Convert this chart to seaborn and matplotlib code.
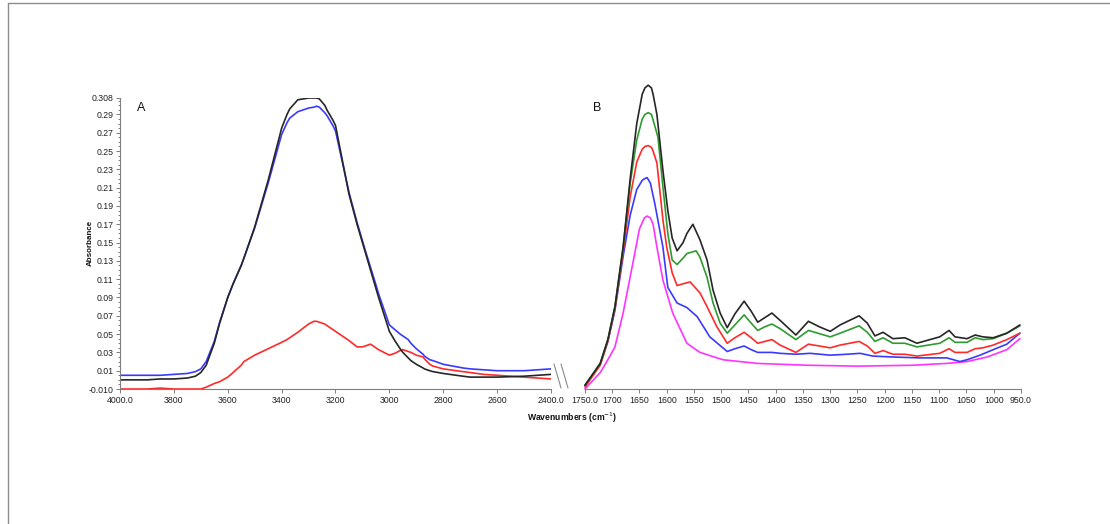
import numpy as np
import pandas as pd
import matplotlib
matplotlib.use("Agg")
import matplotlib.pyplot as plt
from matplotlib.lines import Line2D
import seaborn as sns

# panel A (O-H / N-H stretch region)
wn_a = [4000, 3900, 3850, 3800, 3750, 3720, 3700, 3680, 3650, 3630, 3600, 3580, 3550,
        3540, 3500, 3450, 3400, 3380, 3370, 3340, 3300, 3280, 3270, 3260, 3240, 3230,
        3210, 3200, 3150, 3120, 3100, 3090, 3070, 3050, 3040, 3000, 2980, 2960, 2950,
        2930, 2920, 2900, 2875, 2870, 2850, 2838, 2800, 2727, 2700, 2650, 2600, 2500, 2400]
black_a = [0.000, 0.000, 0.001, 0.001, 0.002, 0.004, 0.008, 0.016, 0.040, 0.062, 0.090, 0.105, 0.125,
           0.133, 0.167, 0.218, 0.275, 0.290, 0.296, 0.306, 0.308, 0.308, 0.308, 0.307, 0.300, 0.294,
           0.284, 0.278, 0.203, 0.170, 0.150, 0.140, 0.120, 0.100, 0.090, 0.053, 0.043, 0.034, 0.030,
           0.024, 0.021, 0.017, 0.013, 0.012, 0.010, 0.009, 0.007, 0.004, 0.003, 0.003, 0.003, 0.004, 0.006]
blue_a = [0.005, 0.005, 0.005, 0.006, 0.007, 0.009, 0.012, 0.020, 0.042, 0.063, 0.090, 0.105, 0.125,
          0.133, 0.166, 0.215, 0.268, 0.281, 0.286, 0.293, 0.297, 0.298, 0.299, 0.298, 0.292, 0.288,
          0.278, 0.272, 0.205, 0.172, 0.152, 0.142, 0.123, 0.104, 0.094, 0.060, 0.055, 0.050, 0.048,
          0.044, 0.040, 0.034, 0.028, 0.026, 0.022, 0.021, 0.017, 0.013, 0.012, 0.011, 0.010, 0.010, 0.012]
red_a = [-0.010, -0.010, -0.009, -0.010, -0.010, -0.010, -0.010, -0.008, -0.004, -0.002, 0.003, 0.008, 0.016,
         0.020, 0.027, 0.034, 0.041, 0.044, 0.046, 0.052, 0.061, 0.064, 0.064, 0.063, 0.061, 0.059,
         0.055, 0.053, 0.043, 0.036, 0.036, 0.037, 0.039, 0.035, 0.033, 0.027, 0.029, 0.032, 0.033,
         0.031, 0.030, 0.027, 0.025, 0.023, 0.017, 0.015, 0.012, 0.009, 0.008, 0.006, 0.005, 0.003, 0.001]

# panel B (amide region), one wavenumber list per trace
wn_black = [1750, 1722, 1708, 1695, 1680, 1667, 1655, 1645, 1640, 1634, 1628, 1625, 1618, 1607, 1598,
            1590, 1581, 1570, 1563, 1552, 1539, 1526, 1515, 1502, 1489, 1475, 1458, 1445, 1433, 1420,
            1407, 1392, 1363, 1340, 1320, 1300, 1282, 1247, 1232, 1218, 1203, 1185, 1163, 1141, 1099,
            1082, 1071, 1049, 1034, 1020, 1001, 976, 952]
black_b = [-0.006, 0.018, 0.044, 0.080, 0.145, 0.220, 0.280, 0.312, 0.319, 0.322, 0.319, 0.312, 0.290, 0.229, 0.185,
           0.155, 0.141, 0.150, 0.160, 0.170, 0.153, 0.131, 0.098, 0.073, 0.057, 0.072, 0.086, 0.075, 0.063, 0.068,
           0.073, 0.065, 0.049, 0.064, 0.058, 0.053, 0.060, 0.070, 0.062, 0.048, 0.052, 0.045, 0.046, 0.040, 0.047,
           0.054, 0.047, 0.045, 0.049, 0.047, 0.046, 0.051, 0.060]
wn_green = [1750, 1722, 1708, 1695, 1680, 1667, 1655, 1645, 1640, 1634, 1628, 1625, 1616, 1607, 1598,
            1590, 1581, 1570, 1563, 1546, 1539, 1526, 1515, 1502, 1489, 1475, 1458, 1445, 1433, 1420,
            1407, 1392, 1363, 1340, 1300, 1282, 1247, 1232, 1218, 1203, 1185, 1163, 1141, 1099, 1082,
            1071, 1049, 1034, 1020, 1001, 976, 952]
green_b = [-0.006, 0.018, 0.044, 0.080, 0.145, 0.215, 0.262, 0.285, 0.290, 0.292, 0.290, 0.284, 0.265, 0.211, 0.160,
           0.131, 0.126, 0.133, 0.138, 0.141, 0.134, 0.112, 0.084, 0.062, 0.051, 0.060, 0.071, 0.062, 0.054, 0.058,
           0.061, 0.056, 0.044, 0.054, 0.047, 0.051, 0.059, 0.052, 0.042, 0.046, 0.040, 0.040, 0.036, 0.040, 0.046,
           0.041, 0.041, 0.046, 0.044, 0.045, 0.051, 0.059]
wn_red = [1750, 1722, 1708, 1695, 1680, 1667, 1655, 1645, 1640, 1634, 1628, 1625, 1618, 1607, 1600,
          1590, 1581, 1570, 1557, 1539, 1526, 1508, 1489, 1475, 1458, 1445, 1433, 1420, 1407, 1392,
          1363, 1340, 1300, 1282, 1247, 1232, 1218, 1203, 1185, 1163, 1141, 1099, 1082, 1071, 1049,
          1034, 1020, 1001, 976, 952]
red_b = [-0.008, 0.016, 0.042, 0.078, 0.140, 0.200, 0.238, 0.252, 0.255, 0.256, 0.254, 0.250, 0.237, 0.175, 0.145,
         0.117, 0.103, 0.105, 0.107, 0.095, 0.080, 0.058, 0.040, 0.046, 0.052, 0.046, 0.040, 0.042, 0.044, 0.038,
         0.030, 0.039, 0.035, 0.038, 0.042, 0.037, 0.029, 0.032, 0.028, 0.028, 0.026, 0.029, 0.034, 0.030, 0.030,
         0.034, 0.035, 0.038, 0.044, 0.051]
wn_blue = [1750, 1722, 1708, 1695, 1680, 1667, 1655, 1645, 1640, 1636, 1630, 1622, 1607, 1598, 1581,
           1563, 1544, 1521, 1497, 1489, 1475, 1458, 1445, 1433, 1407, 1392, 1363, 1337, 1300, 1269,
           1245, 1222, 1185, 1135, 1086, 1062, 1049, 1025, 1001, 976, 952]
blue_b = [-0.006, 0.017, 0.042, 0.076, 0.135, 0.180, 0.208, 0.218, 0.220, 0.221, 0.215, 0.193, 0.145, 0.101, 0.084,
          0.079, 0.069, 0.047, 0.035, 0.031, 0.034, 0.037, 0.033, 0.030, 0.030, 0.029, 0.028, 0.029, 0.027, 0.028,
          0.029, 0.026, 0.025, 0.024, 0.024, 0.020, 0.022, 0.027, 0.033, 0.039, 0.051]
wn_magenta = [1750, 1722, 1708, 1695, 1680, 1662, 1650, 1641, 1636, 1630, 1625, 1618, 1607, 1589, 1563,
              1539, 1497, 1434, 1343, 1250, 1148, 1086, 1049, 1012, 976, 952]
magenta_b = [-0.010, 0.008, 0.022, 0.036, 0.073, 0.128, 0.165, 0.177, 0.179, 0.177, 0.170, 0.145, 0.109, 0.073, 0.040,
             0.030, 0.022, 0.018, 0.016, 0.015, 0.016, 0.018, 0.020, 0.025, 0.033, 0.045]

yticks = [0.308, 0.29, 0.27, 0.25, 0.23, 0.21, 0.19, 0.17, 0.15, 0.13, 0.11, 0.09, 0.07, 0.05, 0.03, 0.01, -0.010]
ytick_labels = ["0.308", "0.29", "0.27", "0.25", "0.23", "0.21", "0.19", "0.17", "0.15", "0.13",
                "0.11", "0.09", "0.07", "0.05", "0.03", "0.01", "-0.010"]
xticks_a = [4000, 3800, 3600, 3400, 3200, 3000, 2800, 2600, 2400]
xlabels_a = ["4000.0", "3800", "3600", "3400", "3200", "3000", "2800", "2600", "2400.0"]
xticks_b = [1750, 1700, 1650, 1600, 1550, 1500, 1450, 1400, 1350, 1300, 1250, 1200, 1150, 1100, 1050, 1000, 950]
xlabels_b = ["1750.0"] + [str(v) for v in xticks_b[1:-1]] + ["950.0"]

sns.set_theme(style="white")
plt.rcParams["font.family"] = ["Liberation Sans", "DejaVu Sans"]

fig = plt.figure(figsize=(11.1, 5.24), dpi=100)
ax_a = fig.add_axes([0.1081, 0.2576, 0.3883, 0.5554])
ax_b = fig.add_axes([0.5270, 0.2576, 0.3928, 0.5554])

lw = 1.2
traces_a = [(blue_a, "#3a3aff"), (red_a, "#ff2a2a"), (black_a, "#262626")]
for vals, col in traces_a:
    df = pd.DataFrame({"wn": wn_a, "abs": vals})
    sns.lineplot(data=df, x="wn", y="abs", ax=ax_a, color=col, lw=lw, estimator=None, sort=False)

traces_b = [(wn_magenta, magenta_b, "#ff33ff"), (wn_blue, blue_b, "#3a3aff"), (wn_red, red_b, "#ff2a2a"),
            (wn_green, green_b, "#2f9a2f"), (wn_black, black_b, "#262626")]
for wn, vals, col in traces_b:
    df = pd.DataFrame({"wn": wn, "abs": vals})
    sns.lineplot(data=df, x="wn", y="abs", ax=ax_b, color=col, lw=lw, estimator=None, sort=False)
for line in ax_b.get_lines():
    line.set_clip_on(False)

spine_col = "#7f7f7f"
for ax in (ax_a, ax_b):
    ax.set_ylim(-0.010, 0.308)
    ax.set_xlabel("")
    ax.set_ylabel("")
    for s in ("top", "right"):
        ax.spines[s].set_visible(False)
    ax.spines["bottom"].set_color(spine_col)
    ax.spines["left"].set_color(spine_col)
    ax.spines["bottom"].set_linewidth(0.8)
    ax.spines["left"].set_linewidth(0.8)
    ax.tick_params(axis="both", which="both", direction="out", color=spine_col, labelsize=6.3,
                   labelcolor="#222222", length=3, width=0.7, pad=2)
    ax.tick_params(axis="both", which="minor", length=1.8)

ax_a.set_xlim(4000, 2400)
ax_a.set_xticks(xticks_a)
ax_a.set_xticklabels(xlabels_a)
ax_a.set_yticks(yticks)
ax_a.set_yticklabels(ytick_labels)
ax_a.set_yticks(np.arange(-0.005, 0.308, 0.005).round(3), minor=True)
ax_a.tick_params(axis="y", which="both", left=True, pad=1.5)
ax_a.tick_params(axis="x", which="both", bottom=True)

ax_b.set_xlim(1750, 950)
ax_b.set_xticks(xticks_b)
ax_b.set_xticklabels(xlabels_b)
ax_b.spines["left"].set_visible(False)
ax_b.set_yticks([])
ax_b.tick_params(axis="x", which="both", bottom=True)

ax_a.text(0.04, 0.965, "A", transform=ax_a.transAxes, fontsize=9, ha="left", va="center", color="#111111")
ax_b.text(0.018, 0.965, "B", transform=ax_b.transAxes, fontsize=9, ha="left", va="center", color="#111111")

fig.text(0.0815, 0.5372, "Absorbance", rotation=90, fontsize=5.8, fontweight="bold",
         ha="center", va="center", color="#111111")
fig.text(0.5153, 0.2023, "Wavenumbers (cm$^{-1}$)", fontsize=6.2, fontweight="bold",
         ha="center", va="center", color="#111111")

# axis break marks between the two panels
W, H = 1110.0, 524.0
for x0, x1 in [(554, 561), (561, 568)]:
    fig.add_artist(Line2D([x0 / W, x1 / W], [1 - 364 / H, 1 - 388 / H], color="#8a8a8a", lw=0.8))

# page frame, top and left edges
fig.add_artist(Line2D([8 / W, 8 / W], [1 - 3 / H, 0], color="#8c8c8c", lw=1.0))
fig.add_artist(Line2D([8 / W, 1.0], [1 - 3 / H, 1 - 3 / H], color="#8c8c8c", lw=1.0))

fig.savefig("out.png", dpi=100)
